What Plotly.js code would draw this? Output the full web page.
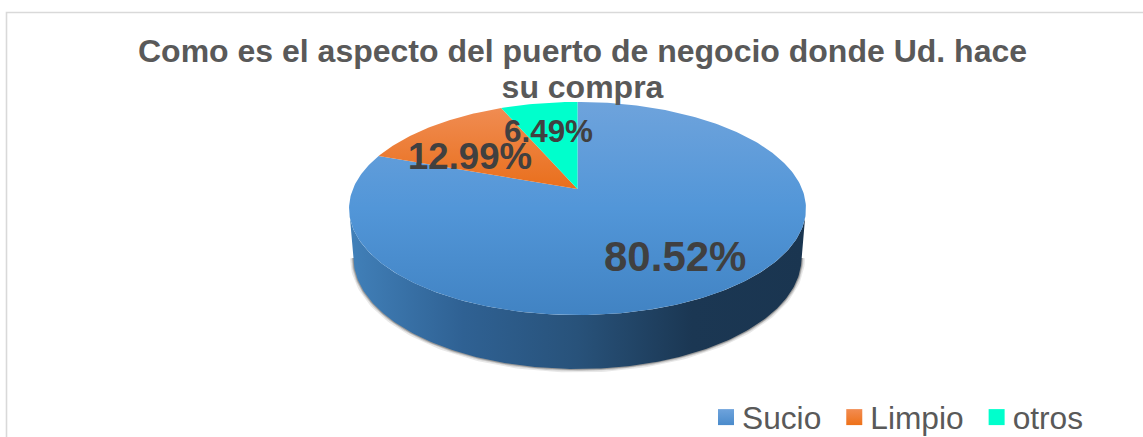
<!DOCTYPE html>
<html>
<head>
<meta charset="utf-8">
<script src="https://cdn.plot.ly/plotly-3.0.1.min.js"></script>
<style>html,body{margin:0;padding:0;background:#fff;overflow:hidden}#c{width:1143px;height:437px}</style>
</head>
<body>
<div id="c"></div>
<script>
var categories = ['Sucio', 'Limpio', 'otros'];
var percents = [80.52, 12.99, 6.49];
var titleText = 'Como es el aspecto del puerto de negocio donde Ud. hace<br>su compra';
var topColors = [['#4183c3', '#5296d8', '#6ea3dc'], ['#e96f1c', '#f08c52'], ['#00ffcc', '#00ffcc']];
var legendColors = [['#6ea3dc', '#4a8bcb'], ['#f28c52', '#ee7118'], ['#00ffcc', '#00ffcc']];
var wallColors = ['#4180b9', '#2f6193', '#28527a', '#1b3753', '#1a3550'];
var labelFont = [42, 36.6, 31.4];
var labelAnchor = [[675, 256], [469.7, 156], [548.5, 131]];

// Perspective projection of the pie disc onto the page
var cx = 577.5, apexY = 189, spanX = 224.6, spanY = 103, persp = 0.183;
function project(angleDeg) { // clockwise from 12 o'clock
  var t = angleDeg * Math.PI / 180, u = Math.sin(t), v = Math.cos(t), d = 1 + persp * v;
  return [cx + spanX * u / d, apexY - spanY * v / d];
}
function sliceXY(a0, a1) {
  var xs = [cx], ys = [apexY];
  var n = Math.max(2, Math.ceil(a1 - a0));
  for (var i = 0; i <= n; i++) {
    var p = project(a0 + (a1 - a0) * i / n);
    xs.push(p[0]); ys.push(p[1]);
  }
  xs.push(cx); ys.push(apexY);
  return {x: xs, y: ys};
}
function scale(cols) {
  return cols.map(function (c, i) { return [i / (cols.length - 1), c]; });
}

// wall: lower rim of the top face joined to the lower rim of the base
var baseCy = 258, baseRx = 224, baseRy = 111;
var wallX = [], wallY = [], rimX = [], rimY = [];
for (var a = 100; a <= 260; a++) {
  var p = project(a); wallX.push(p[0]); wallY.push(p[1]);
}
for (var b = 270; b >= 90; b--) {
  var r = b * Math.PI / 180;
  var bx = cx + baseRx * Math.sin(r), by = baseCy - baseRy * Math.cos(r);
  wallX.push(bx); wallY.push(by); rimX.push(bx); rimY.push(by);
}
wallX.push(wallX[0]); wallY.push(wallY[0]);

var traces = [];
[[7, 0.10], [4, 0.16], [2, 0.28]].forEach(function (s) {
  traces.push({type: 'scatter', mode: 'lines', x: rimX, y: rimY, showlegend: false, hoverinfo: 'skip',
    line: {color: 'rgba(30,30,30,' + s[1] + ')', width: s[0]}});
});
traces.push({type: 'scatter', mode: 'lines', x: wallX, y: wallY, fill: 'toself', showlegend: false, hoverinfo: 'skip',
  line: {width: 0}, fillgradient: {type: 'horizontal', colorscale: scale(wallColors)}});

var start = 0, total = percents.reduce(function (s, v) { return s + v; }, 0);
percents.forEach(function (v, i) {
  var end = start + v / total * 360;
  var xy = sliceXY(start, end);
  traces.push({type: 'scatter', mode: 'lines', x: xy.x, y: xy.y, fill: 'toself', name: categories[i],
    showlegend: false, hoverinfo: 'name', line: {width: 0},
    fillgradient: {type: 'vertical', colorscale: scale(topColors[i])}});
  start = end;
});
categories.forEach(function (c, i) {
  traces.push({type: 'scatter', mode: 'markers', x: [null], y: [null], name: c, hoverinfo: 'skip',
    marker: {symbol: 'square', size: 17, color: legendColors[i][0], line: {width: 0},
      gradient: {type: 'vertical', color: legendColors[i][1]}}});
});

var annotations = percents.map(function (v, i) {
  return {x: labelAnchor[i][0], y: labelAnchor[i][1], xref: 'x', yref: 'y', showarrow: false,
    xanchor: 'center', yanchor: 'middle', text: v.toFixed(2) + '%',
    font: {family: 'Liberation Sans, Arial, sans-serif', size: labelFont[i], color: '#404040', weight: 'bold'}};
});

var layout = {
  width: 1143, height: 437, margin: {l: 0, r: 0, t: 0, b: 0, autoexpand: false},
  paper_bgcolor: '#ffffff', plot_bgcolor: '#ffffff',
  title: {text: titleText, x: 582.5 / 1143, xanchor: 'center', y: 0.858, yanchor: 'top',
    font: {family: 'Liberation Sans, Arial, sans-serif', size: 32, color: '#595959', weight: 'bold'}},
  xaxis: {range: [0, 1143], visible: false, fixedrange: true},
  yaxis: {range: [437, 0], visible: false, fixedrange: true},
  legend: {orientation: 'h', x: 698 / 1143, xanchor: 'left', y: 1 - 390 / 437, yanchor: 'top',
    font: {family: 'Liberation Sans, Arial, sans-serif', size: 31.7, color: '#595959'},
    itemwidth: 34, bgcolor: 'rgba(0,0,0,0)', traceorder: 'normal'},
  shapes: [{type: 'rect', xref: 'x', yref: 'y', x0: 6.5, y0: 12.5, x1: 1160, y1: 460,
    line: {color: '#d9d9d9', width: 1.6}, fillcolor: 'rgba(0,0,0,0)', layer: 'below'}],
  annotations: annotations
};
Plotly.newPlot('c', traces, layout, {displayModeBar: false}).then(function (gd) {
  gd.querySelectorAll('.gtitle tspan.line').forEach(function (t, i) {
    if (i > 0) t.setAttribute('dy', '36px');
  });
  gd.querySelectorAll('.legend .legendsymbols').forEach(function (g) {
    g.setAttribute('transform', 'translate(6,0)');
  });
});
</script>
</body>
</html>
